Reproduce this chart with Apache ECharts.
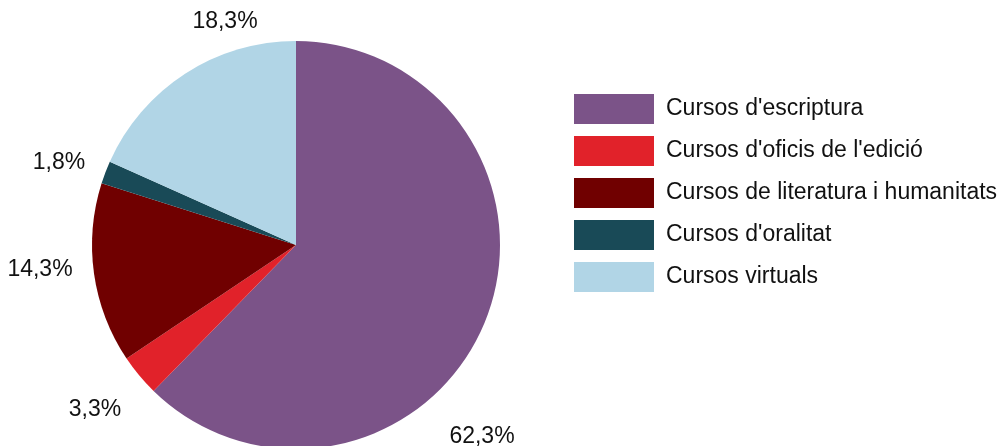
<!DOCTYPE html>
<html>
<head>
<meta charset="utf-8">
<script src="https://cdn.jsdelivr.net/npm/echarts@6/dist/echarts.min.js"></script>
<style>
html,body{margin:0;padding:0;background:#fff;}
#main{width:1001px;height:446px;}
</style>
</head>
<body>
<div id="main"></div>
<script>
var categories = ["Cursos d'escriptura", "Cursos d'oficis de l'edició", "Cursos de literatura i humanitats", "Cursos d'oralitat", "Cursos virtuals"];
var values = [62.3, 3.3, 14.3, 1.8, 18.3];
var colors = ['#7B5388', '#E1222A', '#700000', '#194A57', '#B1D5E6'];
var labelPos = [[482, 437], [95, 410], [40, 270], [59, 163], [225, 22]];

var FONT = "'Liberation Sans', Arial, Helvetica, sans-serif";
var chart = echarts.init(document.getElementById('main'));
chart.setOption({
  animation: false,
  legend: {
    orient: 'vertical',
    left: 574,
    top: 94,
    padding: 0,
    itemWidth: 80,
    itemHeight: 30,
    itemGap: 12,
    itemTextGap: 5,
    icon: 'rect',
    textStyle: { fontFamily: FONT, fontSize: 23, color: '#111', padding: [0, 0, 0, 7] },
    data: categories
  },
  series: [{
    type: 'pie',
    center: [296, 245],
    radius: 204,
    startAngle: 90,
    clockwise: true,
    avoidLabelOverlap: false,
    itemStyle: { borderWidth: 0 },
    emphasis: { disabled: true },
    label: {
      show: true,
      position: 'outside',
      fontFamily: FONT,
      fontSize: 23,
      color: '#111',
      formatter: function (p) { return p.value.toFixed(1).replace('.', ',') + '%'; }
    },
    labelLine: { show: false },
    labelLayout: function (params) {
      var pos = labelPos[params.dataIndex];
      return { x: pos[0], y: pos[1], align: 'center', verticalAlign: 'middle' };
    },
    data: categories.map(function (c, i) {
      return { name: c, value: values[i], itemStyle: { color: colors[i] } };
    })
  }]
});
</script>
</body>
</html>
